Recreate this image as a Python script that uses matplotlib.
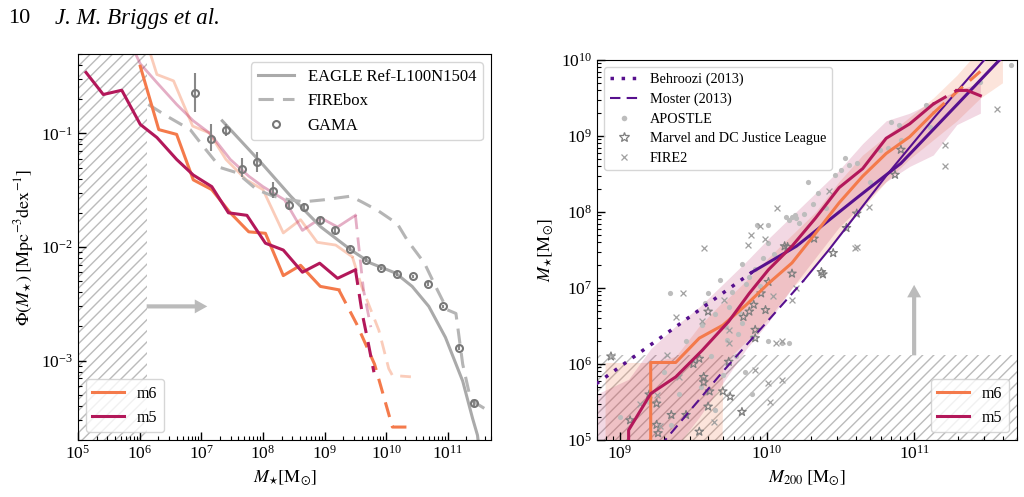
import numpy as np
import matplotlib
matplotlib.use("Agg")
import matplotlib.pyplot as plt
from matplotlib.ticker import LogLocator, NullFormatter
from matplotlib.lines import Line2D

plt.rcParams['font.family'] = ['Liberation Serif', 'DejaVu Serif']
plt.rcParams['mathtext.fontset'] = 'stix'
plt.rcParams['hatch.linewidth'] = 1.0

M6_COL = '#f47a4b'
M5_COL = '#b3185a'
PURPLE = '#57108e'
GREY = '#aaaaaa'
HATCH_COL = '#bbbbbb'

# ---------------- left panel: stellar mass function (log10 M*, Phi) ----------------
m5_lm = [5.13, 5.41, 5.71, 6.01, 6.28, 6.60, 6.87, 7.17, 7.44, 7.74, 8.04, 8.33, 8.64, 8.92, 9.21, 9.50]
m5_phi = [0.344, 0.22, 0.24, 0.12, 0.092, 0.059, 0.043, 0.034, 0.020, 0.019, 0.0108, 0.0094, 0.006, 0.0072, 0.0053, 0.0063]
m5_dash_lm = [9.50, 9.61, 9.70, 9.80]
m5_dash_phi = [0.0063, 0.0026, 0.0015, 0.00079]

m6_lm = [6.01, 6.31, 6.60, 6.87, 7.17, 7.47, 7.77, 8.04, 8.33, 8.61, 8.93, 9.23]
m6_phi = [0.39, 0.108, 0.098, 0.039, 0.032, 0.020, 0.0136, 0.0132, 0.0056, 0.0069, 0.0045, 0.0042]
m6_dash_lm = [9.23, 9.52, 9.81, 10.10, 10.40]
m6_dash_phi = [0.0042, 0.0021, 0.00093, 0.00026, 0.00026]

# faint companion runs
pm6_lm = [6.0, 6.28, 6.55, 6.86, 7.13, 7.40, 7.73, 8.0, 8.33, 8.61, 8.88, 9.18, 9.45]
pm6_phi = [1.0, 0.33, 0.29, 0.116, 0.101, 0.059, 0.039, 0.032, 0.0133, 0.0174, 0.011, 0.0104, 0.0082]
pm6_dash_lm = [9.45, 9.60, 9.88, 10.04, 10.10, 10.40]
pm6_dash_phi = [0.0082, 0.0045, 0.00185, 0.00085, 0.00074, 0.00072]

pm5_lm = [5.71, 6.01, 6.28, 6.60, 6.87, 7.14, 7.47, 7.77, 8.0, 8.35, 8.64, 8.94, 9.21, 9.50]
pm5_phi = [0.9, 0.41, 0.28, 0.18, 0.129, 0.10, 0.059, 0.042, 0.034, 0.026, 0.014, 0.018, 0.015, 0.019]
pm5_dash_lm = [9.50, 9.63, 9.75]
pm5_dash_phi = [0.019, 0.0042, 0.00197]

eagle_lm = [7.34, 8.0, 8.45, 8.94, 9.43, 9.75, 10.15, 10.42, 10.69, 10.96, 11.24, 11.40, 11.48, 11.56]
eagle_phi = [0.129, 0.053, 0.028, 0.015, 0.0094, 0.0072, 0.0059, 0.0045, 0.0030, 0.0016, 0.00066, 0.00031, 0.00022, 0.0001]

firebox_lm = [6.14, 6.44, 6.82, 7.03, 7.31, 7.58, 7.90, 8.17, 8.43, 8.66, 8.98, 9.42, 9.60, 9.86,
              10.18, 10.34, 10.62, 10.80, 10.99, 11.13, 11.24, 11.37, 11.59]
firebox_phi = [0.18, 0.142, 0.108, 0.077, 0.050, 0.045, 0.032, 0.028, 0.026, 0.025, 0.026, 0.028, 0.025, 0.021,
               0.016, 0.0115, 0.0072, 0.0045, 0.0028, 0.0026, 0.00093, 0.00045, 0.00038]

gama_lm = [6.90, 7.16, 7.40, 7.66, 7.91, 8.16, 8.42, 8.66, 8.92, 9.17, 9.42, 9.67, 9.92, 10.17,
           10.43, 10.67, 10.92, 11.18, 11.42]
gama_phi = [0.226, 0.090, 0.107, 0.049, 0.056, 0.031, 0.0235, 0.0227, 0.0173, 0.0141, 0.0097, 0.0077,
            0.0065, 0.0058, 0.0055, 0.0047, 0.0030, 0.0013, 0.00042]
gama_lo = [0.154, 0.070, 0.094, 0.041, 0.046, 0.027, 0.021, 0.021, 0.016, 0.013, 0.0092, 0.0074,
           0.0063, 0.0056, 0.0053, 0.0045, 0.0029, 0.00125, 0.0004]
gama_hi = [0.34, 0.12, 0.12, 0.061, 0.068, 0.037, 0.026, 0.0245, 0.0185, 0.015, 0.0102, 0.008,
           0.0067, 0.006, 0.0057, 0.0049, 0.0031, 0.00135, 0.00044]

# ---------------- right panel: stellar mass - halo mass (log10 values) ----------------
behroozi_dot_lx = [8.84, 9.90]
behroozi_dot_ly = [5.74, 7.21]
behroozi_lx = [9.90, 10.20, 10.62, 10.91, 11.30, 11.57, 11.75]
behroozi_ly = [7.21, 7.55, 8.20, 8.64, 9.43, 9.98, 10.30]

moster_dash_lx = [9.20, 9.70, 10.25]
moster_dash_ly = [4.75, 5.90, 7.10]
moster_lx = [10.25, 10.42, 10.82, 11.14, 11.49, 11.70]
moster_ly = [7.10, 7.50, 8.50, 9.25, 10.03, 10.50]

m5r_lx = [9.06, 9.06, 9.21, 9.38, 9.56, 9.74, 9.88, 10.01, 10.17, 10.33, 10.49, 10.65, 10.81, 10.97, 11.13]
m5r_ly = [4.5, 5.13, 5.61, 5.83, 6.18, 6.56, 6.93, 7.24, 7.55, 7.92, 8.32, 8.57, 8.97, 9.16, 9.42]
m5r_dash_lx = [11.13, 11.29]
m5r_dash_ly = [9.42, 9.60]
m5r_end_lx = [11.29, 11.36, 11.45]
m5r_end_ly = [9.60, 9.60, 9.53]

m6r_lx = [9.21, 9.21, 9.38, 9.54, 9.70, 9.86, 10.01, 10.17, 10.33, 10.49, 10.65, 10.81, 10.97, 11.13]
m6r_ly = [4.5, 6.02, 6.02, 6.34, 6.51, 6.78, 7.06, 7.33, 7.72, 8.12, 8.47, 8.77, 8.99, 9.30]
m6r_dash_lx = [11.13, 11.29, 11.45]
m6r_dash_ly = [9.30, 9.58, 9.85]

m5_band_lx = [8.84, 9.06, 9.21, 9.38, 9.54, 9.70, 9.86, 10.01, 10.17, 10.33, 10.49, 10.65, 10.81, 10.97, 11.13, 11.29, 11.45]
m5_band_lo = [4.0, 4.0, 4.5, 4.9, 5.3, 5.75, 6.2, 6.55, 7.0, 7.4, 7.8, 8.1, 8.4, 8.6, 8.75, 9.15, 9.3]
m5_band_hi = [5.6, 5.8, 6.2, 6.5, 6.75, 7.05, 7.35, 7.65, 7.95, 8.25, 8.55, 8.9, 9.2, 9.3, 9.45, 9.6, 9.7]

m6_band_lx = [8.90, 9.21, 9.38, 9.54, 9.69, 9.70, 9.86, 10.01, 10.17, 10.33, 10.49, 10.65, 10.81, 10.97, 11.13, 11.29, 11.45, 11.6]
m6_band_lo = [4.0, 4.0, 4.0, 4.0, 4.0, 6.0, 6.3, 6.6, 7.0, 7.3, 7.7, 8.05, 8.4, 8.7, 8.95, 9.2, 9.5, 9.7]
m6_band_hi = [6.02, 6.02, 6.1, 6.5, 6.8, 6.8, 7.1, 7.4, 7.7, 8.0, 8.4, 8.75, 9.0, 9.25, 9.5, 9.8, 10.15, 10.4]

apostle_lx = [11.66, 11.45, 11.08, 10.84, 10.90, 11.11, 10.77, 10.82, 10.91, 10.53, 10.50, 10.56, 10.46, 10.61,
              10.28, 10.35, 10.31, 10.17, 10.22, 10.25, 10.15, 10.20, 10.13, 10.19, 9.93, 10.01, 10.01, 9.83,
              9.34, 9.60, 9.88, 9.95, 9.74, 9.81, 9.83, 9.56, 9.65, 9.72, 9.73, 9.79, 9.90, 10.01, 10.15,
              10.10, 9.45, 9.50, 9.62, 9.30, 9.55, 9.70, 9.85, 9.40, 9.20, 9.90, 9.00, 9.65, 9.35,
              9.76, 9.86, 9.68, 9.92, 9.97, 10.05, 9.58, 9.80, 10.40, 10.70]
apostle_ly = [9.93, 9.71, 9.41, 9.19, 9.14, 9.12, 8.82, 8.84, 8.95, 8.71, 8.55, 8.62, 8.49, 8.64,
              8.39, 8.25, 8.11, 7.94, 7.85, 7.98, 7.89, 7.92, 7.94, 7.96, 7.83, 7.83, 7.59, 7.32,
              6.93, 6.93, 7.15, 7.02, 6.75, 6.68, 6.54, 6.51, 6.66, 6.49, 6.32, 6.10, 6.35, 6.30, 6.27,
              6.27, 6.30, 6.05, 6.10, 5.90, 5.70, 5.85, 5.90, 5.60, 5.50, 5.60, 5.30, 5.40, 5.20,
              6.95, 7.05, 7.10, 7.25, 7.40, 7.45, 6.80, 6.40, 8.05, 8.40]

marvel_lx = [10.91, 10.87, 10.61, 10.54, 10.32, 10.14, 10.45, 10.37, 10.38, 10.17, 10.12, 10.01, 9.96, 9.91,
             9.99, 9.88, 9.92, 9.92, 9.84, 9.60, 9.54, 9.74, 9.57, 9.57, 9.61, 9.70, 9.75, 9.83, 9.60,
             9.35, 9.45, 9.54, 9.26, 9.25, 9.07, 9.25, 8.94, 9.50, 9.20]
marvel_ly = [8.82, 8.49, 7.98, 7.79, 7.65, 7.54, 7.46, 7.21, 7.18, 7.19, 7.55, 7.08, 6.93, 6.78,
             6.71, 6.69, 6.45, 6.34, 6.62, 6.69, 6.07, 6.03, 5.83, 5.76, 5.64, 5.64, 5.57, 5.37, 5.44,
             5.33, 5.33, 5.11, 5.09, 5.20, 5.26, 5.48, 6.10, 6.00, 5.60]

fire2_lx = [11.56, 11.21, 11.21, 10.60, 10.42, 10.69, 10.61, 10.20, 10.17, 10.10, 10.07, 9.89, 9.95, 9.99,
            9.87, 9.57, 9.43, 9.38, 9.56, 9.71, 9.74, 9.74, 10.04, 10.10, 10.06, 8.95, 9.32, 10.01,
            10.02, 9.14, 9.40, 9.25, 9.92, 9.64, 9.27]
fire2_ly = [9.36, 8.88, 8.60, 7.52, 8.27, 8.07, 7.54, 7.00, 6.84, 5.79, 8.05, 7.70, 7.81, 7.65,
            7.57, 7.52, 6.93, 6.62, 6.56, 6.84, 6.45, 6.27, 6.90, 6.30, 6.27, 6.10, 6.12, 5.75,
            5.50, 5.48, 5.83, 5.59, 5.92, 5.24, 5.18]


def p10(a):
    return 10 ** np.asarray(a, dtype=float)


def log_ticks(ax):
    for axis in (ax.xaxis, ax.yaxis):
        axis.set_major_locator(LogLocator(base=10, numticks=30))
        axis.set_minor_locator(LogLocator(base=10, subs=np.arange(2, 10), numticks=100))
        axis.set_minor_formatter(NullFormatter())
    ax.tick_params(which='both', direction='in', labelsize=12.5)
    ax.tick_params(which='major', length=6, width=1)
    ax.tick_params(which='minor', length=3, width=0.8)


fig = plt.figure(figsize=(10.24, 4.97), dpi=100)

fig.text(0.008, 0.963, '10', fontsize=16, va='center')
fig.text(0.054, 0.963, 'J. M. Briggs et al.', fontsize=16.5, style='italic', va='center')

# ================= left panel =================
ax1 = fig.add_axes([78 / 1024, 57 / 497, 413 / 1024, 386 / 497])
ax1.set_xscale('log')
ax1.set_yscale('log')
ax1.set_xlim(1e5, 5e11)
ax1.set_ylim(2e-4, 0.5)

ax1.axvspan(1e5, 1.3e6, facecolor='none', edgecolor=HATCH_COL, hatch='///', lw=0, zorder=0)
ax1.annotate('', xy=(1.25e7, 3.0e-3), xytext=(1.3e6, 3.0e-3),
             arrowprops=dict(width=3, headwidth=10, headlength=9, color=HATCH_COL, lw=0))

ax1.plot(p10(pm6_lm), pm6_phi, color=M6_COL, alpha=0.38, lw=2)
ax1.plot(p10(pm6_dash_lm), pm6_dash_phi, color=M6_COL, alpha=0.38, lw=2, dashes=(5, 3))
ax1.plot(p10(pm5_lm), pm5_phi, color=M5_COL, alpha=0.35, lw=2)
ax1.plot(p10(pm5_dash_lm), pm5_dash_phi, color=M5_COL, alpha=0.35, lw=2, dashes=(5, 3))

ax1.plot(p10(eagle_lm), eagle_phi, color=GREY, lw=2.2)
ax1.plot(p10(firebox_lm), firebox_phi, color='#b5b5b5', lw=2.2, dashes=(5, 3))
gama_err = [np.array(gama_phi) - np.array(gama_lo), np.array(gama_hi) - np.array(gama_phi)]
ax1.errorbar(p10(gama_lm), gama_phi, yerr=gama_err, fmt='o', mfc='none', mec='#777777',
             mew=1.5, ms=5, ecolor='#888888', elinewidth=1.5, capsize=0, zorder=4)

ax1.plot(p10(m6_lm), m6_phi, color=M6_COL, lw=2.2, zorder=5)
ax1.plot(p10(m6_dash_lm), m6_dash_phi, color=M6_COL, lw=2.2, dashes=(5, 3), zorder=5)
ax1.plot(p10(m5_lm), m5_phi, color=M5_COL, lw=2.2, zorder=5)
ax1.plot(p10(m5_dash_lm), m5_dash_phi, color=M5_COL, lw=2.2, dashes=(5, 3), zorder=5)

log_ticks(ax1)
ax1.set_xlabel(r'$M_{\star}[\mathrm{M}_{\odot}]$', fontsize=13)
ax1.set_ylabel(r'$\Phi(M_{\star})\;[\mathrm{Mpc}^{-3}\mathrm{dex}^{-1}]$', fontsize=13)

h_obs = [Line2D([], [], color=GREY, lw=2.2),
         Line2D([], [], color='#b5b5b5', lw=2.2, dashes=(5, 3)),
         Line2D([], [], ls='none', marker='o', mfc='none', mec='#777777', mew=1.5, ms=5)]
leg1 = ax1.legend(h_obs, ['EAGLE Ref-L100N1504', 'FIREbox', 'GAMA'], loc='upper right',
                  fontsize=12, framealpha=0.8, handlelength=2.2)
ax1.add_artist(leg1)
h_sim = [Line2D([], [], color=M6_COL, lw=2.2), Line2D([], [], color=M5_COL, lw=2.2)]
ax1.legend(h_sim, ['m6', 'm5'], loc='lower left', fontsize=11.5, framealpha=0.8, handlelength=2.0)

# ================= right panel =================
ax2 = fig.add_axes([597 / 1024, 57 / 497, 420 / 1024, 380 / 497])
ax2.set_xscale('log')
ax2.set_yscale('log')
ax2.set_xlim(7e8, 5e11)
ax2.set_ylim(1e5, 1e10)

ax2.axhspan(1e4, 1.3e6, facecolor='none', edgecolor=HATCH_COL, hatch='///', lw=0, zorder=0)
ax2.annotate('', xy=(1e11, 1.1e7), xytext=(1e11, 1.3e6),
             arrowprops=dict(width=3, headwidth=10, headlength=9, color=HATCH_COL, lw=0))

ax2.fill_between(p10(m6_band_lx), p10(m6_band_lo), p10(m6_band_hi), color=M6_COL, alpha=0.2, lw=0, zorder=1)
ax2.fill_between(p10(m5_band_lx), p10(m5_band_lo), p10(m5_band_hi), color=M5_COL, alpha=0.17, lw=0, zorder=1)

ax2.scatter(p10(apostle_lx), p10(apostle_ly), s=14, color='#bdbdbd', lw=0, zorder=2)
ax2.scatter(p10(marvel_lx), p10(marvel_ly), s=40, marker='*', facecolor='none',
            edgecolor='#7f7f7f', lw=0.9, zorder=2)
ax2.scatter(p10(fire2_lx), p10(fire2_ly), s=18, marker='x', color='#a0a0a0', lw=0.9, zorder=2)

ax2.plot(p10(behroozi_dot_lx), p10(behroozi_dot_ly), color=PURPLE, lw=2.5, ls=(0, (1, 2.2)), zorder=4)
ax2.plot(p10(behroozi_lx), p10(behroozi_ly), color=PURPLE, lw=2.2, zorder=4)
ax2.plot(p10(moster_dash_lx), p10(moster_dash_ly), color=PURPLE, lw=1.5, dashes=(5, 3), zorder=4)
ax2.plot(p10(moster_lx), p10(moster_ly), color=PURPLE, lw=1.5, zorder=4)

ax2.plot(p10(m6r_lx), p10(m6r_ly), color=M6_COL, lw=2.2, zorder=5)
ax2.plot(p10(m6r_dash_lx), p10(m6r_dash_ly), color=M6_COL, lw=2.2, dashes=(5, 3), zorder=5)
ax2.plot(p10(m5r_lx), p10(m5r_ly), color=M5_COL, lw=2.2, zorder=5)
ax2.plot(p10(m5r_dash_lx), p10(m5r_dash_ly), color=M5_COL, lw=2.2, dashes=(5, 3), zorder=5)
ax2.plot(p10(m5r_end_lx), p10(m5r_end_ly), color=M5_COL, lw=2.2, zorder=5)

log_ticks(ax2)
ax2.set_xlabel(r'$M_{200}\;[\mathrm{M}_{\odot}]$', fontsize=13)
ax2.set_ylabel(r'$M_{\star}[\mathrm{M}_{\odot}]$', fontsize=13)

h_rel = [Line2D([], [], color=PURPLE, lw=2.5, ls=(0, (1, 2.2))),
         Line2D([], [], color=PURPLE, lw=1.5, dashes=(5, 3)),
         Line2D([], [], ls='none', marker='o', ms=4, mfc='#bdbdbd', mec='none'),
         Line2D([], [], ls='none', marker='*', ms=7, mfc='none', mec='#7f7f7f', mew=0.9),
         Line2D([], [], ls='none', marker='x', ms=4.5, color='#a0a0a0', mew=0.9)]
leg2 = ax2.legend(h_rel, ['Behroozi (2013)', 'Moster (2013)', 'APOSTLE',
                          'Marvel and DC Justice League', 'FIRE2'],
                  loc='upper left', fontsize=10.3, framealpha=0.8, handlelength=2.0,
                  labelspacing=0.45)
ax2.add_artist(leg2)
ax2.legend(h_sim, ['m6', 'm5'], loc='lower right', fontsize=11.5, framealpha=0.8, handlelength=2.0)

fig.savefig('out.png', dpi=100)
